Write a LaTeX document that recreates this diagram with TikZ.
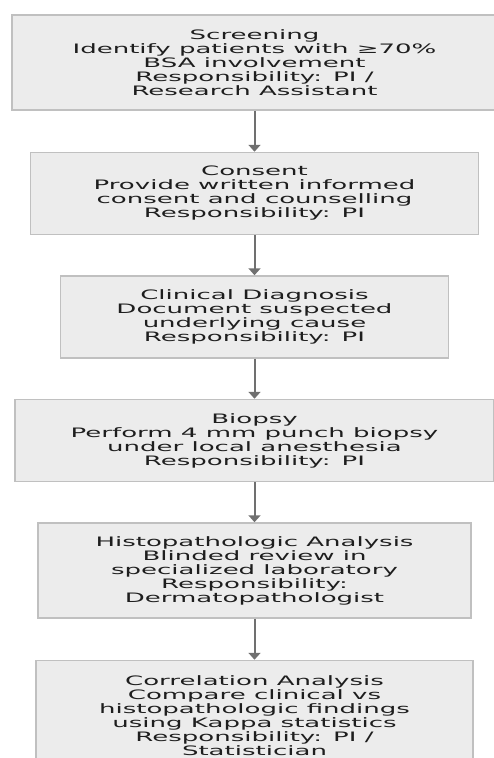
\documentclass[tikz,border=0pt]{standalone}
\usepackage{fontspec}
\setmainfont{DejaVu Sans}[FakeStretch=2.0]
\usetikzlibrary{positioning,arrows.meta}
\definecolor{boxfill}{RGB}{236,236,236}
\definecolor{boxline}{RGB}{192,192,192}
\definecolor{arrowgray}{RGB}{112,112,112}
\definecolor{textgray}{RGB}{30,30,30}

\begin{document}
\begin{tikzpicture}[x=1pt,y=1pt,
  stepbox/.style={draw=boxline, line width=1.5pt, fill=boxfill, text=textgray,
    align=center, inner sep=0pt, font=\fontsize{13}{14}\selectfont},
  flow/.style={draw=arrowgray, line width=2pt, -{Triangle[width=12pt,length=7pt]}}]
  \useasboundingbox (0,0) rectangle (494,-758);
  \clip (0,0) rectangle (494,-758);
  % steps of the study
  \node[stepbox, minimum width=485pt, minimum height=95pt] (screen) at (254.5,-62.5)
    {Screening\\Identify patients with ≥70\%\\BSA involvement\\Responsibility: PI /\\Research Assistant};
  \node[stepbox, minimum width=448pt, minimum height=82pt, below=41pt of screen] (consent)
    {Consent\\Provide written informed\\consent and counselling\\Responsibility: PI};
  \node[stepbox, minimum width=388pt, minimum height=82pt, below=40pt of consent] (diagnosis)
    {Clinical Diagnosis\\Document suspected\\underlying cause\\Responsibility: PI};
  \node[stepbox, minimum width=479pt, minimum height=82pt, below=40pt of diagnosis] (biopsy)
    {Biopsy\\Perform 4 mm punch biopsy\\under local anesthesia\\Responsibility: PI};
  \node[stepbox, minimum width=433pt, minimum height=95pt, below=40pt of biopsy] (histo)
    {Histopathologic Analysis\\Blinded review in\\specialized laboratory\\Responsibility:\\Dermatopathologist};
  \node[stepbox, minimum width=437pt, minimum height=110pt, below=41pt of histo] (correlation)
    {Correlation Analysis\\Compare clinical vs\\histopathologic findings\\using Kappa statistics\\Responsibility: PI /\\Statistician};
  % arrows
  \foreach \a/\b in {screen/consent,consent/diagnosis,diagnosis/biopsy,biopsy/histo,histo/correlation}
    \draw[flow] (\a) -- (\b);
\end{tikzpicture}
\end{document}
